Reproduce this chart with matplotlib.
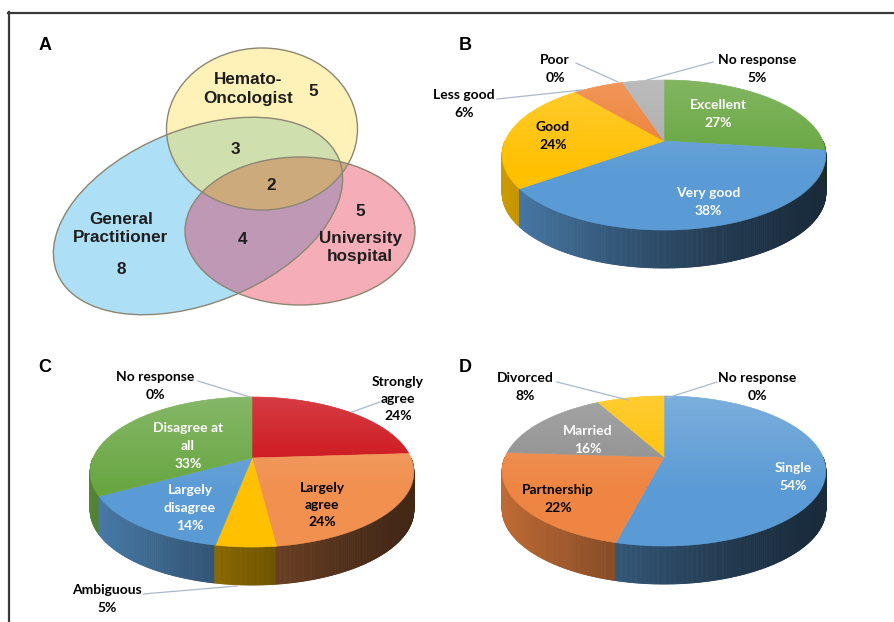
import numpy as np
import matplotlib.pyplot as plt
from matplotlib.patches import Ellipse, Polygon
from matplotlib.collections import PolyCollection
import matplotlib.colors as mcolors

# --- A: Venn diagram (counts per region) ---
venn_names = ['Hemato-\nOncologist', 'General\nPractitioner', 'University\nhospital']
venn_only = [5, 8, 5]          # hemato only, GP only, university only
venn_hem_gp = 3
venn_gp_uni = 4
venn_all = 2

# --- B ---
b_labels = ['Excellent', 'Very good', 'Good', 'Less good', 'Poor', 'No response']
b_values = [27, 38, 24, 6, 0, 5]
b_colors = ['#64A43C', '#5B9BD5', '#FFC000', '#ED7D31', '#C55A11', '#ABABAB']
b_text = ['white', 'white', 'black', 'black', 'black', 'black']

# --- C ---
c_labels = ['Strongly\nagree', 'Largely\nagree', 'Ambiguous', 'Largely\ndisagree',
            'Disagree at\nall', 'No response']
c_values = [24, 24, 5, 14, 33, 0]
c_colors = ['#CC0C14', '#F1904F', '#FFC000', '#5B9BD5', '#68A642', '#A5A5A5']
c_text = ['black', 'black', 'black', 'white', 'white', 'black']

# --- D ---
d_labels = ['Single', 'Partnership', 'Married', 'Divorced', 'No response']
d_values = [54, 22, 16, 8, 0]
d_colors = ['#5B9BD5', '#EE8542', '#8E8E8E', '#FFC000', '#A5A5A5']
d_text = ['white', 'black', 'white', 'black', 'black']

# label anchor points (pixel coords) and leader lines
b_pos = [(718, 114), (708, 202), (553, 136), (464, 104), (555, 69), (757, 69)]
c_pos = [(398, 399), (322, 505), (107, 599), (190, 508), (188, 446), (155, 386)]
d_pos = [(793, 477), (558, 499), (588, 440), (525, 387), (757, 387)]
b_lead = {3: [(497, 99), (582, 90)], 4: [(576, 63), (618, 82)], 5: [(713, 62), (647, 80)]}
c_lead = {0: [(380, 402), (352, 412)], 2: [(143, 594), (237, 586)], 5: [(198, 381), (250, 397)]}
d_lead = {3: [(557, 382), (628, 400)], 4: [(717, 382), (667, 398)]}

LEAD = '#A9B8CC'
PIE_FONT = 'Lato'


def pie3d(ax, cx, cy, values, colors, rx=159, ry=72.4, k=0.187, depth=38):
    vals = np.asarray(values, float)
    bounds = 90 - 360 * np.concatenate([[0], np.cumsum(vals / vals.sum())])

    def pt(th):
        t = np.radians(th)
        w = 1 + k * np.sin(t)
        return cx + rx * np.cos(t) / w, cy - ry * np.sin(t) / w

    # side wall, shaded darker towards the right
    th = np.linspace(-180, 0, 361)
    x, y = pt(th)
    polys, cols = [], []
    for i in range(len(th) - 1):
        mid = 0.5 * (th[i] + th[i + 1])
        j = np.where((bounds[1:] <= mid) & (bounds[:-1] > mid))[0][0]
        polys.append([(x[i], y[i]), (x[i + 1], y[i + 1]),
                      (x[i + 1], y[i + 1] + depth), (x[i], y[i] + depth)])
        t = np.clip((0.5 * (x[i] + x[i + 1]) - (cx - rx)) / (2 * rx), 0, 1)
        f = 0.28 + 0.52 * (1 - t) ** 1.4
        cols.append(np.array(mcolors.to_rgb(colors[j])) * f)
    ax.add_collection(PolyCollection(polys, facecolors=cols, edgecolors=cols, linewidths=0.6))

    # top face
    for j in range(len(vals)):
        if vals[j] == 0:
            continue
        a = np.linspace(bounds[j], bounds[j + 1], 120)
        xs, ys = pt(a)
        ax.add_patch(Polygon(np.column_stack([np.r_[cx, xs], np.r_[cy, ys]]),
                             closed=True, fc=colors[j], ec=colors[j], lw=0.4))

    # soft highlight on the top face
    ex, ey = pt(np.linspace(0, 360, 400))
    clip = Polygon(np.column_stack([ex, ey]), closed=True, transform=ax.transData)
    grad = np.zeros((100, 1, 4))
    grad[..., :3] = 1
    grad[:, 0, 3] = np.clip(np.linspace(0.2, -0.12, 100), 0, None)
    im = ax.imshow(grad, extent=(ex.min(), ex.max(), ey.max(), ey.min()),
                   origin='upper', aspect='auto', zorder=3, interpolation='bilinear')
    im.set_clip_path(clip)


def pie_labels(ax, labels, values, pos, textcol, leads):
    for i, (lab, v) in enumerate(zip(labels, values)):
        ax.text(pos[i][0], pos[i][1], f'{lab}\n{v}%', ha='center', va='center',
                fontsize=10, fontweight='bold', family=PIE_FONT, color=textcol[i],
                linespacing=1.55, zorder=5)
    for pts in leads.values():
        p = np.array(pts)
        ax.plot(p[:, 0], p[:, 1], color=LEAD, lw=0.9, zorder=4)


fig = plt.figure(figsize=(8.94, 6.22), dpi=100)
ax = fig.add_axes([0, 0, 1, 1])

# frame
ax.plot([8, 894], [12.5, 12.5], color='#3a3a3a', lw=1.6)
ax.plot([8.5, 8.5], [12, 622], color='#3a3a3a', lw=1.6)

# Venn
def ell(c, w, h, ang, **kw):
    return Ellipse(c, w, h, angle=ang, transform=ax.transData, **kw)

gp = ((198, 216), 304, 174, -22)
hem = ((262, 129), 191, 162, 0)
uni = ((300, 231), 230, 148, 0)

ax.add_patch(ell(*gp, fc='#ADDFF6', ec='none'))
ax.add_patch(ell(*uni, fc='#F5ADB7', ec='none'))
p = ell(*uni, fc='#BF98B5', ec='none'); ax.add_patch(p); p.set_clip_path(ell(*gp))
ax.add_patch(ell(*hem, fc='#FFF2B8', ec='none'))
p = ell(*hem, fc='#CFDFAD', ec='none'); ax.add_patch(p); p.set_clip_path(ell(*gp))
p = ell(*hem, fc='#CDAA7C', ec='none'); ax.add_patch(p); p.set_clip_path(ell(*uni))
for e in (gp, hem, uni):
    ax.add_patch(ell(*e, fc='none', ec='#8C8672', lw=1.0))

vfont = dict(family='Liberation Sans', fontweight='bold', fontsize=12.3,
             color='#1e1e1e', ha='center', va='center', linespacing=1.25)
ax.text(248, 89, venn_names[0], **vfont)
ax.text(121, 228, venn_names[1], **vfont)
ax.text(360, 248, venn_names[2], **vfont)
ax.text(313, 91, str(venn_only[0]), **vfont)
ax.text(121, 270, str(venn_only[1]), **vfont)
ax.text(360, 211, str(venn_only[2]), **vfont)
ax.text(235, 149, str(venn_hem_gp), **vfont)
ax.text(243, 240, str(venn_gp_uni), **vfont)
ax.text(271, 185, str(venn_all), **vfont)

# pies
pie3d(ax, 664, 141, b_values, b_colors)
pie_labels(ax, b_labels, b_values, b_pos, b_text, b_lead)
pie3d(ax, 252, 458, c_values, c_colors)
pie_labels(ax, c_labels, c_values, c_pos, c_text, c_lead)
pie3d(ax, 664, 457, d_values, d_colors)
pie_labels(ax, d_labels, d_values, d_pos, d_text, d_lead)

# panel letters
for s, (x, y) in zip('ABCD', [(45, 46), (465, 46), (45, 368), (465, 368)]):
    ax.text(x, y, s, family='Liberation Sans', fontweight='bold', fontsize=13,
            ha='center', va='center', color='black')

ax.set_xlim(0, 894)
ax.set_ylim(622, 0)
ax.axis('off')
fig.savefig('out.png', dpi=100, facecolor='white')
